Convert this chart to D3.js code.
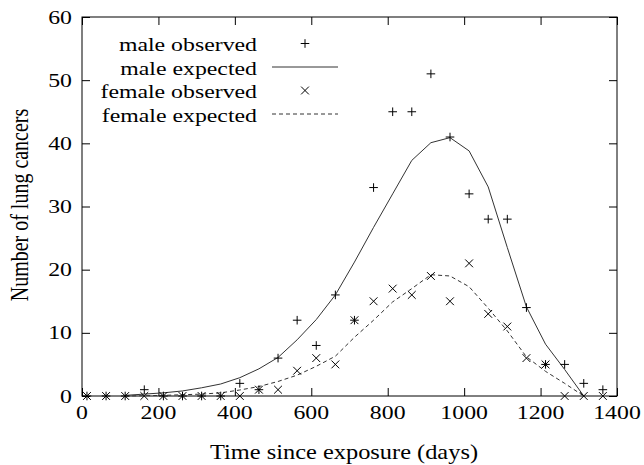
<!DOCTYPE html>
<html>
<head>
<meta charset="utf-8">
<script src="https://cdn.jsdelivr.net/npm/d3@7/dist/d3.min.js"></script>
<style>
  body { margin: 0; background: #fff; }
  svg text { font-family: "Liberation Serif", "Times New Roman", serif; fill: #000; }
</style>
</head>
<body>
<svg id="chart"></svg>
<script>
// time points (days since exposure)
var days = [13, 63, 113, 163, 213, 263, 313, 363, 413, 463, 513, 563, 613, 663,
            713, 763, 813, 863, 913, 963, 1013, 1063, 1113, 1163, 1213, 1263, 1313, 1363];
var maleObserved   = [0, 0, 0, 1, 0, 0, 0, 0, 2, 1, 6, 12, 8, 16, 12, 33, 45, 45, 51, 41, 32, 28, 28, 14, 5, 5, 2, 1];
var femaleObserved = [0, 0, 0, 0, 0, 0, 0, 0, 0, 1, 1, 4, 6, 5, 12, 15, 17, 16, 19, 15, 21, 13, 11, 6, 5, 0, 0, 0];
var maleExpected   = [null, null, 0.1, 0.3, 0.5, 0.8, 1.3, 1.9, 2.9, 4.3, 6.1, 8.9, 12.1, 16.0, 21.2, 26.7,
                      32.0, 37.3, 40.1, 40.9, 38.8, 33.1, 23.5, 14.1, 8.2, 4.2, 0, null];
var femaleExpected = [null, null, 0, 0.05, 0.1, 0.2, 0.3, 0.5, 0.95, 1.5, 2.3, 3.3, 4.7, 6.3, 9.3, 12.0,
                      14.9, 17.0, 19.2, 19.0, 17.3, 13.9, 10.3, 6.2, 3.9, 2.0, 0, null];
var xTicks = [0, 200, 400, 600, 800, 1000, 1200, 1400];
var yTicks = [0, 10, 20, 30, 40, 50, 60];
var legendLabels = ["male observed", "male expected", "female observed", "female expected"];

var W = 644, H = 465;
var pLeft = 82, pRight = 617, pTop = 17, pBottom = 396;
var stretch = 1.22;   // the picture's text is a bit wide

var svg = d3.select("#chart").attr("width", W).attr("height", H);

var x = d3.scaleLinear().domain([0, 1400]).range([pLeft, pRight]);
var y = d3.scaleLinear().domain([0, 60]).range([pBottom, pTop]);

// ticks on all four sides, pointing inwards
svg.append("g").attr("transform", "translate(0," + pBottom + ")")
    .call(d3.axisBottom(x).tickValues(xTicks).tickSize(-8).tickFormat(""));
svg.append("g").attr("transform", "translate(0," + pTop + ")")
    .call(d3.axisTop(x).tickValues(xTicks).tickSize(-8).tickFormat(""));
svg.append("g").attr("transform", "translate(" + pLeft + ",0)")
    .call(d3.axisLeft(y).tickValues(yTicks).tickSize(-8).tickFormat(""));
svg.append("g").attr("transform", "translate(" + pRight + ",0)")
    .call(d3.axisRight(y).tickValues(yTicks).tickSize(-8).tickFormat(""));
svg.selectAll(".domain").remove();
svg.selectAll(".tick line").attr("stroke", "#000");

svg.append("rect")
    .attr("x", pLeft).attr("y", pTop)
    .attr("width", pRight - pLeft).attr("height", pBottom - pTop)
    .attr("fill", "none").attr("stroke", "#000").attr("stroke-width", 1);

// tick labels
svg.selectAll("text.xlab").data(xTicks).enter().append("text")
    .attr("class", "xlab")
    .attr("transform", function(d) { return "translate(" + x(d) + ",419) scale(" + stretch + ",1)"; })
    .attr("text-anchor", "middle").style("font-size", "19.5px")
    .text(function(d) { return d; });
svg.selectAll("text.ylab").data(yTicks).enter().append("text")
    .attr("class", "ylab")
    .attr("transform", function(d) { return "translate(72," + (y(d) + 6.5) + ") scale(" + stretch + ",1)"; })
    .attr("text-anchor", "end").style("font-size", "19.5px")
    .text(function(d) { return d; });

// axis titles
svg.append("text")
    .attr("transform", "translate(344,459) scale(" + stretch + ",1)")
    .attr("text-anchor", "middle").style("font-size", "20px")
    .text("Time since exposure (days)");
svg.append("text")
    .attr("transform", "translate(28,205) rotate(-90) scale(1," + stretch + ")")
    .attr("text-anchor", "middle").style("font-size", "20px")
    .text("Number of lung cancers");

// expected curves
function curve(vals) {
    return d3.line()
        .defined(function(d) { return d != null; })
        .x(function(d, i) { return x(days[i]); })
        .y(function(d) { return y(d); })(vals);
}
svg.append("path").attr("d", curve(maleExpected))
    .attr("fill", "none").attr("stroke", "#333").attr("stroke-width", 1);
svg.append("path").attr("d", curve(femaleExpected))
    .attr("fill", "none").attr("stroke", "#333").attr("stroke-width", 1)
    .attr("stroke-dasharray", "4,3");

// observed markers
var s = 4.3;
function plusPath(cx, cy) {
    return "M" + (cx - s) + "," + cy + "H" + (cx + s) + "M" + cx + "," + (cy - s) + "V" + (cy + s);
}
function crossPath(cx, cy) {
    var k = 3.9;
    return "M" + (cx - k) + "," + (cy - k) + "L" + (cx + k) + "," + (cy + k) +
           "M" + (cx - k) + "," + (cy + k) + "L" + (cx + k) + "," + (cy - k);
}
svg.selectAll("path.male").data(maleObserved).enter().append("path")
    .attr("class", "male")
    .attr("d", function(d, i) { return plusPath(x(days[i]), y(d)); })
    .attr("stroke", "#000").attr("stroke-width", 1).attr("fill", "none");
svg.selectAll("path.female").data(femaleObserved).enter().append("path")
    .attr("class", "female")
    .attr("d", function(d, i) { return crossPath(x(days[i]), y(d)); })
    .attr("stroke", "#000").attr("stroke-width", 1).attr("fill", "none");

// legend
var legBase = [51, 74.5, 98, 121.5];
legendLabels.forEach(function(lab, i) {
    svg.append("text")
        .attr("transform", "translate(257," + legBase[i] + ") scale(" + stretch + ",1)")
        .attr("text-anchor", "end").style("font-size", "19.5px")
        .text(lab);
    var cy = legBase[i] - 7.5;
    if (i === 0) {
        svg.append("path").attr("d", plusPath(305, cy)).attr("stroke", "#000").attr("fill", "none");
    } else if (i === 2) {
        svg.append("path").attr("d", crossPath(305, cy)).attr("stroke", "#000").attr("fill", "none");
    } else {
        svg.append("line").attr("x1", 272).attr("x2", 338).attr("y1", cy).attr("y2", cy)
            .attr("stroke", "#333").attr("stroke-width", 1)
            .attr("stroke-dasharray", i === 3 ? "4,3" : null);
    }
});
</script>
</body>
</html>
